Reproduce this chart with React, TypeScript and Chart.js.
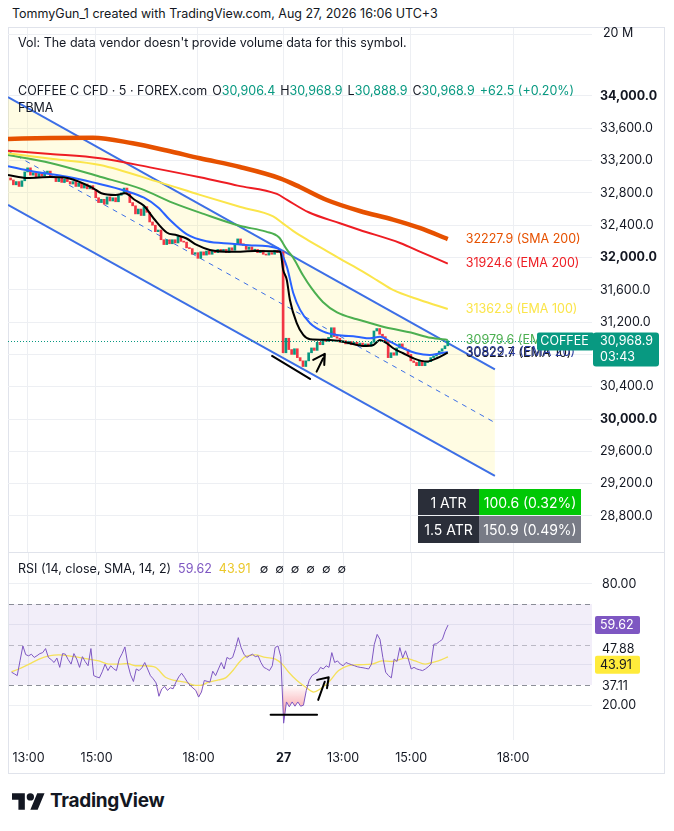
import React, { useEffect, useRef } from "react";
import { Chart, registerables } from "chart.js";

Chart.register(...registerables);

const FONT = "Inter, 'Noto Sans', 'DejaVu Sans', sans-serif";
const TEXT = "#131722";
const GRID = "#EDEFF3";
const UP = "#089981";
const DOWN = "#F23645";

// ---------- axes ----------
const xMin = -0.9;
const xMax = 204.8;
const timeTickIdx = [6, 30, 66, 96, 117, 141, 177];
const timeTickLabels = ["13:00", "15:00", "18:00", "27", "13:00", "15:00", "18:00"];
const priceTicks = [28800, 29200, 29600, 30000, 30400, 30800, 31200, 31600, 32000, 32400, 32800, 33200, 33600, 34000];
const priceAxisMin = 28353;
const priceAxisMax = 34842;
const rsiAxisMin = 2.78;
const rsiAxisMax = 95.25;
const rsiGridTicks = [20, 40, 60, 80];

// ---------- candles (5 min closes) ----------
const firstOpen = 32985;
const closes = [
  32960, 32900, 32940, 32880, 32950, 33060, 33110, 33020, 33050, 33000,
  33040, 33010, 33050, 33070, 33000, 32990, 32940, 32980, 32930, 32970,
  32940, 32910, 32940, 32880, 32920, 32860, 32910, 32850, 32890, 32840,
  32740, 32680, 32720, 32660, 32750, 32700, 32740, 32690, 32770, 32800,
  32860, 32800, 32680, 32640, 32540, 32600, 32520, 32630, 32560, 32440,
  32400, 32320, 32340, 32220, 32160, 32220, 32170, 32220, 32180, 32260,
  32200, 32190, 32120, 32110, 32040, 32060, 31990, 32070, 32030, 32080,
  32040, 32080, 32060, 32100, 32070, 32100, 32060, 32120, 32090, 32160,
  32230, 32170, 32150, 32100, 32130, 32090, 32100, 32060, 32090, 32040,
  32030, 32060, 32040, 32090, 32060, 32070, 30820, 31000, 30860, 30800,
  30870, 30760, 30720, 30650, 30720, 30820, 30880, 30850, 30950, 30920,
  30990, 30960, 31010, 31130, 31020, 31000, 30950, 30970, 30930, 30960,
  30920, 30950, 30910, 30940, 30900, 30930, 30900, 30950, 31090, 31120,
  31050, 31020, 30960, 30760, 30820, 30790, 30880, 30930, 30880, 30860,
  30800, 30720, 30700, 30660, 30720, 30660, 30700, 30710, 30760, 30780,
  30800, 30840, 30870, 30906.4, 30968.9,
];

// ---------- moving averages (bar index / value) ----------
const sma200Idx = [-0.9, 14, 29, 43, 55, 66.7, 80.8, 94.9, 101.9, 111.4, 123, 134.7, 144.1, 154];
const sma200Val = [33468, 33480, 33484, 33414, 33325, 33229, 33121, 32981, 32873, 32712, 32576, 32470, 32366, 32227.9];

const ema200Idx = [-0.9, 14, 31.5, 50, 66.7, 80, 93.8, 97.4, 105, 116, 123, 137.2, 145, 154];
const ema200Val = [33323, 33282, 33229, 33110, 32993, 32890, 32787, 32713, 32560, 32424, 32341, 32180, 32060, 31924.6];

const ema100Idx = [-0.9, 15, 31.5, 52.6, 66.7, 81, 92.5, 96, 99.5, 105, 111.4, 117, 123, 129, 134.7, 144.2, 154];
const ema100Val = [33290, 33220, 33146, 32930, 32775, 32625, 32510, 32420, 32330, 32210, 32080, 31965, 31846, 31720, 31598, 31474, 31362.9];

const ema50Idx = [-0.9, 14, 31.5, 46, 57, 68, 81, 90, 94.5, 97.4, 99.5, 103, 106, 110, 115, 122, 129, 134, 141, 148, 154];
const ema50Val = [33270, 33171, 33001, 32850, 32680, 32540, 32390, 32320, 32250, 32094, 32000, 31780, 31620, 31450, 31320, 31235, 31165, 31120, 31070, 31005, 30979.6];

const ema20Idx = [-0.9, 8, 20, 29, 41, 47, 52, 56, 62, 69, 78, 85, 94, 97.3, 99.6, 102, 105.5, 110.2, 114.9, 121.9, 126.6, 130.1, 133.7, 138.3, 143, 147.7, 151.3, 154];
const ema20Val = [33130, 33065, 33000, 32930, 32820, 32740, 32620, 32470, 32290, 32200, 32170, 32150, 32115, 31887, 31557, 31351, 31186, 31082, 31041, 31020, 30999, 31020, 30958, 30876, 30814, 30793, 30814, 30829.4];

const ema10Idx = [-0.9, 6, 14, 20, 29, 32, 37, 40.3, 43.8, 47, 50.5, 55, 58.6, 62, 65.6, 70.2, 78.3, 86, 95, 96, 97.3, 98.4, 100.8, 103.1, 105.5, 112.5, 117.2, 124.3, 127.8, 130.1, 132.5, 134.8, 138.3, 141.9, 146.6, 150.1, 154];
const ema10Val = [33022, 32985, 32997, 32985, 32860, 32795, 32774, 32795, 32712, 32640, 32480, 32310, 32275, 32235, 32155, 32093, 32070, 32080, 32075, 31850, 31722, 31474, 31186, 31041, 30987, 30979, 30958, 30905, 30917, 30979, 30938, 30876, 30814, 30752, 30711, 30752, 30822.7];

// ---------- regression channel ----------
const channelIdx = [-0.9, 170.6];
const channelUpper = [33985, 30615];
const channelMid = [33318, 29955];
const channelLower = [32651, 29296];

// ---------- hand drawn marks ----------
const priceMarkA = [[92.1, 30781], [105.5, 30497]];
const priceMarkB = [[107.8, 30587], [110.1, 30753]];
const priceMarkC = [[106.6, 30732], [110.7, 30806], [110.5, 30670]];
const rsiMarkA = [[91.4, 15.3], [107.8, 15.3]];
const rsiMarkB = [[107.8, 32.5], [111.9, 33.8], [111.3, 28.4]];
const rsiMarkC = [[108.2, 22.6], [110.5, 31.6]];

// ---------- RSI ----------
const rsi = [
  36.3, 35.5, 34.6, 42, 49.3, 45, 44.4, 45.2, 43.6, 44.5,
  45.5, 46, 48, 43.6, 42.5, 41.1, 43.3, 38.7, 45.5, 45.2,
  42.5, 40.3, 45.5, 42.8, 38.7, 44, 41.5, 39.5, 48, 34.6,
  34, 33.5, 36.5, 40.3, 37.1, 39.5, 38, 37.1, 42.8, 45.5,
  48.8, 40.3, 35, 31.7, 37.9, 37.1, 38.5, 41.1, 37.9, 34.6,
  33, 31, 24.4, 28, 29.3, 27.3, 28.6, 28.1, 31.4, 34,
  35.8, 33.8, 31.5, 29.8, 28.5, 27.3, 24, 26.5, 32.2, 31.8,
  31.4, 36.8, 34.6, 37.9, 41.1, 37.9, 43.6, 42.8, 43.6, 48,
  53.4, 48.5, 45.2, 43.6, 44.5, 45.2, 44, 44.4, 41.1, 38.7,
  38, 37.1, 39.5, 48.5, 49.3, 44, 11.1, 21.6, 19.2, 21.6,
  19.5, 21.6, 19.5, 20, 27.3, 32.2, 34.6, 35.5, 36.3, 38.7,
  37.9, 39.5, 38.7, 46, 41.1, 41.9, 40.3, 39.5, 41.1, 40.5,
  40, 39.5, 39, 38.7, 38.5, 38.2, 37.9, 40.3, 50.1, 55,
  52.5, 43.6, 36.3, 34.6, 33.5, 42.8, 41.6, 48.5, 43.3, 46.9,
  42.8, 37.9, 38.7, 37.9, 37.5, 37.1, 37.9, 39, 40.3, 50.1,
  50.4, 51.5, 52.5, 56.6, 59.62,
];
const rsiMaIdx = [0, 2.6, 6.2, 9.7, 13.2, 16.7, 20.2, 23.8, 27.3, 30.8, 34.3, 37.9, 40.8, 43.7, 47.2, 50.8, 54.3, 57.8, 61.3, 64.8, 66.6, 69.5, 73.1, 75.5, 78.3, 80.2, 82.5, 86, 89.6, 93.1, 95.5, 97.8, 100.7, 103.7, 106.6, 109, 111.9, 115.4, 118.9, 122.4, 127.1, 130.7, 134.2, 138.9, 142.4, 145.9, 148.3, 150.6, 154];
const rsiMaVal = [36.6, 37.9, 40.3, 42.8, 44.4, 44.9, 44.4, 43.6, 42.8, 41.9, 40.3, 40.3, 40.6, 39.5, 39.5, 38.7, 33.8, 32.2, 31.4, 29.8, 29.8, 31.4, 32.5, 33.5, 37.5, 41, 44, 44.9, 43.6, 42.8, 40.3, 36.3, 32.2, 29, 26.5, 28.1, 31.4, 37.1, 39.5, 40, 40.3, 41.9, 41.6, 43.3, 41.9, 40.3, 41.1, 41.9, 43.91];
const rsiBands = [70, 50, 30];
const rsiSideLabels = [47.88, 37.11];

// ---------- helpers ----------
const pts = (idx: number[], val: number[]) => idx.map((x, i) => ({ x, y: val[i] }));
const pairPts = (arr: number[][]) => arr.map(([x, y]) => ({ x, y }));
const fmtPrice = (v: number) =>
  Number(v).toLocaleString("en-US", { minimumFractionDigits: 1, maximumFractionDigits: 1 });

const lineDs = (data: any[], color: string, width: number, order: number, extra: any = {}) => ({
  type: "line",
  data,
  borderColor: color,
  borderWidth: width,
  pointRadius: 0,
  fill: false,
  cubicInterpolationMode: "monotone",
  order,
  ...extra,
});

const maLabels = [
  { name: "SMA 200", val: sma200Val, color: "#E65100", dy: 0 },
  { name: "EMA 200", val: ema200Val, color: "#EE1D23", dy: 0 },
  { name: "EMA 100", val: ema100Val, color: "#FBE54B", dy: 0 },
  { name: "EMA 50", val: ema50Val, color: "#4CAF50", dy: 0 },
  { name: "EMA 10", val: ema10Val, color: "#1a1a1a", dy: 1 },
  { name: "EMA 20", val: ema20Val, color: "#2A3C9E", dy: 0 },
];

const roundRect = (ctx: CanvasRenderingContext2D, x: number, y: number, w: number, h: number, r: number) => {
  ctx.beginPath();
  ctx.moveTo(x + r, y);
  ctx.lineTo(x + w - r, y);
  ctx.quadraticCurveTo(x + w, y, x + w, y + r);
  ctx.lineTo(x + w, y + h - r);
  ctx.quadraticCurveTo(x + w, y + h, x + w - r, y + h);
  ctx.lineTo(x + r, y + h);
  ctx.quadraticCurveTo(x, y + h, x, y + h - r);
  ctx.lineTo(x, y + r);
  ctx.quadraticCurveTo(x, y, x + r, y);
  ctx.closePath();
};

const priceOverlay = {
  id: "priceOverlay",
  afterDatasetsDraw(chart: any) {
    const { ctx, chartArea } = chart;
    const xs = chart.scales.x;
    const ys = chart.scales.y;
    const last = closes.length - 1;
    const lastClose = closes[last];
    const py = Math.round(ys.getPixelForValue(lastClose));
    ctx.save();
    ctx.strokeStyle = UP;
    ctx.lineWidth = 1;
    ctx.setLineDash([1, 2]);
    ctx.beginPath();
    ctx.moveTo(chartArea.left, py + 0.5);
    ctx.lineTo(chartArea.right, py + 0.5);
    ctx.stroke();
    ctx.setLineDash([]);
    const lx = xs.getPixelForValue(last) + 18;
    ctx.font = `12.5px ${FONT}`;
    ctx.textBaseline = "middle";
    ctx.textAlign = "left";
    maLabels.forEach((m) => {
      const v = m.val[m.val.length - 1];
      ctx.fillStyle = m.color;
      ctx.fillText(`${v.toFixed(1)} (${m.name})`, lx, ys.getPixelForValue(v) + m.dy);
    });
    const tagW = 55;
    ctx.fillStyle = UP;
    roundRect(ctx, chartArea.right - tagW, py - 8.5, tagW + 2, 18, 2);
    ctx.fill();
    ctx.fillStyle = "#ffffff";
    ctx.textAlign = "center";
    ctx.font = `12.5px ${FONT}`;
    ctx.fillText("COFFEE", chartArea.right - tagW / 2, py + 0.5);
    roundRect(ctx, chartArea.right + 1, py - 8.5, 66, 34, 3);
    ctx.fillStyle = UP;
    ctx.fill();
    ctx.fillStyle = "#ffffff";
    ctx.textAlign = "left";
    ctx.fillText(fmtPrice(lastClose), chartArea.right + 8, py + 0.5);
    ctx.fillText("03:43", chartArea.right + 8, py + 16.5);
    ctx.restore();
  },
};

const rsiOverlay = {
  id: "rsiOverlay",
  beforeDatasetsDraw(chart: any) {
    const { ctx, chartArea } = chart;
    const ys = chart.scales.y;
    ctx.save();
    const yTop = ys.getPixelForValue(rsiBands[0]);
    const yBot = ys.getPixelForValue(rsiBands[2]);
    ctx.fillStyle = "rgba(126,87,194,0.1)";
    ctx.fillRect(chartArea.left, yTop, chartArea.right - chartArea.left, yBot - yTop);
    rsiBands.forEach((b, i) => {
      const y = Math.round(ys.getPixelForValue(b)) + 0.5;
      ctx.strokeStyle = i === 1 ? "rgba(120,123,134,0.45)" : "rgba(120,123,134,0.85)";
      ctx.lineWidth = 1;
      ctx.setLineDash([5, 4]);
      ctx.beginPath();
      ctx.moveTo(chartArea.left, y);
      ctx.lineTo(chartArea.right, y);
      ctx.stroke();
    });
    ctx.restore();
  },
  afterDraw(chart: any) {
    const { ctx, chartArea } = chart;
    const ys = chart.scales.y;
    ctx.save();
    ctx.font = `12.5px ${FONT}`;
    ctx.textBaseline = "middle";
    ctx.textAlign = "left";
    ctx.fillStyle = TEXT;
    ctx.fillText(rsiSideLabels[0].toFixed(2), chartArea.right + 10, ys.getPixelForValue(rsiSideLabels[0]));
    ctx.fillText(rsiSideLabels[1].toFixed(2), chartArea.right + 10, ys.getPixelForValue(rsiSideLabels[1]) + 16);
    const lastRsi = rsi[rsi.length - 1];
    const lastMa = rsiMaVal[rsiMaVal.length - 1];
    const y1 = ys.getPixelForValue(lastRsi);
    roundRect(ctx, chartArea.right + 3, y1 - 9, 45, 18, 2);
    ctx.fillStyle = "#7E57C2";
    ctx.fill();
    ctx.fillStyle = "#ffffff";
    ctx.fillText(lastRsi.toFixed(2), chartArea.right + 8, y1 + 0.5);
    const y2 = ys.getPixelForValue(lastMa) + 8;
    roundRect(ctx, chartArea.right + 3, y2 - 9, 45, 18, 2);
    ctx.fillStyle = "#FFEB3B";
    ctx.fill();
    ctx.fillStyle = TEXT;
    ctx.fillText(lastMa.toFixed(2), chartArea.right + 8, y2 + 0.5);
    ctx.restore();
  },
};

const markStyle = { tension: 0, cubicInterpolationMode: "default", borderCapStyle: "round", borderJoinStyle: "round" };

export default function App() {
  const priceRef = useRef<HTMLCanvasElement>(null);
  const rsiRef = useRef<HTMLCanvasElement>(null);

  useEffect(() => {
    const opens = closes.map((c, i) => (i === 0 ? firstOpen : closes[i - 1]));
    const candleData = closes.map((c, i) => ({ x: i, y: [opens[i], c] }));
    const candleColors = closes.map((c, i) => (c >= opens[i] ? UP : DOWN));

    const priceChart = new Chart(priceRef.current as HTMLCanvasElement, {
      type: "line",
      data: {
        datasets: [
          lineDs(pts(channelIdx, channelUpper), "#3D6FE6", 2, 20, {
            fill: "+1",
            backgroundColor: "rgba(255,235,59,0.14)",
            cubicInterpolationMode: "default",
          }),
          lineDs(pts(channelIdx, channelLower), "#3D6FE6", 2, 19, { cubicInterpolationMode: "default" }),
          lineDs(pts(channelIdx, channelMid), "#3D6FE6", 1, 18, { borderDash: [5, 5], cubicInterpolationMode: "default" }),
          {
            type: "bar",
            data: candleData,
            backgroundColor: candleColors,
            borderWidth: 0,
            barThickness: 2,
            minBarLength: 1,
            order: 10,
          },
          lineDs(pts(sma200Idx, sma200Val), "#E65100", 4.5, 1),
          lineDs(pts(ema200Idx, ema200Val), "#EE1D23", 2, 2),
          lineDs(pts(ema100Idx, ema100Val), "#FBE54B", 2, 3),
          lineDs(pts(ema50Idx, ema50Val), "#4CAF50", 2, 4),
          lineDs(pts(ema20Idx, ema20Val), "#2962FF", 2, 5),
          lineDs(pts(ema10Idx, ema10Val), "#000000", 2, 4.5),
          lineDs(pairPts(priceMarkA), "#000000", 2, 0, markStyle),
          lineDs(pairPts(priceMarkB), "#000000", 2, 0, markStyle),
          lineDs(pairPts(priceMarkC), "#000000", 2, 0, markStyle),
        ] as any,
      },
      options: {
        responsive: false,
        devicePixelRatio: 1,
        animation: false,
        events: [],
        layout: { padding: 0 },
        plugins: {
          legend: { display: false },
          tooltip: { enabled: false },
          filler: { drawTime: "beforeDatasetsDraw" },
        } as any,
        scales: {
          x: {
            type: "linear",
            min: xMin,
            max: xMax,
            offset: false,
            afterBuildTicks: (s: any) => {
              s.ticks = timeTickIdx.map((v) => ({ value: v }));
            },
            ticks: { display: false },
            grid: { color: GRID, drawTicks: false, offset: false },
            border: { display: false },
            afterFit: (s: any) => {
              s.height = 0;
              s.paddingLeft = 0;
              s.paddingRight = 0;
            },
          },
          y: {
            type: "linear",
            position: "right",
            min: priceAxisMin,
            max: priceAxisMax,
            afterBuildTicks: (s: any) => {
              s.ticks = priceTicks.map((v) => ({ value: v }));
            },
            ticks: {
              padding: 8,
              color: TEXT,
              font: (c: any) => ({
                family: FONT,
                size: 12.5,
                weight: c.tick && c.tick.value % 2000 === 0 ? "bold" : "normal",
              }),
              callback: (v: any) => (v === 30800 ? "" : fmtPrice(v)),
            },
            grid: { color: GRID, drawTicks: false },
            border: { display: false },
            afterFit: (s: any) => {
              s.width = 72;
              s.paddingTop = 0;
              s.paddingBottom = 0;
            },
          },
        } as any,
      },
      plugins: [priceOverlay],
    } as any);

    const rsiChart = new Chart(rsiRef.current as HTMLCanvasElement, {
      type: "line",
      data: {
        datasets: [
          lineDs(rsi.map((v, i) => ({ x: i, y: v })), "#7E57C2", 1, 2, { cubicInterpolationMode: "default", tension: 0 }),
          lineDs(pts(rsiMaIdx, rsiMaVal), "#F5E15A", 1.3, 3),
          lineDs(pairPts(rsiMarkA), "#000000", 2, 0, markStyle),
          lineDs(pairPts(rsiMarkB), "#000000", 2, 0, markStyle),
          lineDs(pairPts(rsiMarkC), "#000000", 2, 0, markStyle),
        ] as any,
      },
      options: {
        responsive: false,
        devicePixelRatio: 1,
        animation: false,
        events: [],
        layout: { padding: 0 },
        plugins: {
          legend: { display: false },
          tooltip: { enabled: false },
          filler: { drawTime: "beforeDatasetsDraw" },
        } as any,
        scales: {
          x: {
            type: "linear",
            min: xMin,
            max: xMax,
            offset: false,
            afterBuildTicks: (s: any) => {
              s.ticks = timeTickIdx.map((v) => ({ value: v }));
            },
            ticks: {
              autoSkip: false,
              maxRotation: 0,
              padding: 11,
              color: TEXT,
              font: (c: any) => ({
                family: FONT,
                size: 12.5,
                weight: timeTickLabels[c.index] === "27" ? "bold" : "normal",
              }),
              callback: (_v: any, i: number) => timeTickLabels[i],
            },
            grid: { color: GRID, drawTicks: false },
            border: { display: false },
            afterFit: (s: any) => {
              s.height = 33;
              s.paddingLeft = 0;
              s.paddingRight = 0;
            },
          },
          y: {
            type: "linear",
            position: "right",
            min: rsiAxisMin,
            max: rsiAxisMax,
            afterBuildTicks: (s: any) => {
              s.ticks = rsiGridTicks.map((v) => ({ value: v }));
            },
            ticks: {
              padding: 10,
              color: TEXT,
              font: { family: FONT, size: 12.5 },
              callback: (v: any) => (v === 80 || v === 20 ? Number(v).toFixed(2) : ""),
            },
            grid: { color: GRID, drawTicks: false },
            border: { display: false },
            afterFit: (s: any) => {
              s.width = 72;
              s.paddingTop = 0;
              s.paddingBottom = 0;
            },
          },
        } as any,
      },
      plugins: [rsiOverlay],
    } as any);

    const ys = rsiChart.scales.y as any;
    const g = rsiChart.ctx.createLinearGradient(0, ys.getPixelForValue(30), 0, ys.getPixelForValue(0));
    g.addColorStop(0, "rgba(242,54,69,0)");
    g.addColorStop(1, "rgba(242,54,69,1)");
    (rsiChart.data.datasets[0] as any).fill = { target: { value: 30 }, above: "rgba(0,0,0,0)", below: g };
    rsiChart.update("none");

    return () => {
      priceChart.destroy();
      rsiChart.destroy();
    };
  }, []);

  const abs = (left: number, top: number, extra: any = {}) => ({ position: "absolute", left, top, ...extra } as React.CSSProperties);
  const txt: React.CSSProperties = { whiteSpace: "nowrap", fontSize: 12.5, lineHeight: "16px" };
  const teal = { color: UP };

  return (
    <div style={{ position: "absolute", left: 0, top: 0, width: 674, height: 831, background: "#ffffff", fontFamily: FONT, color: TEXT, overflow: "hidden" }}>
      <div style={abs(12, 6, txt)}>TommyGun_1 created with TradingView.com, Aug 27, 2026 16:06 UTC+3</div>

      <div style={abs(8, 27, { width: 655, height: 745, border: "1px solid #E0E3EB" })} />

      <canvas ref={priceRef} width={656} height={524} style={abs(8, 28, { width: 656, height: 524 })} />
      <canvas ref={rsiRef} width={656} height={221} style={abs(8, 552, { width: 656, height: 221 })} />

      <div style={abs(8, 552, { width: 656, height: 1, background: "#E0E3EB" })} />
      <div style={abs(8, 34, { width: 584, height: 1, background: GRID })} />

      <div style={abs(603, 25, txt)}>20 M</div>
      <div style={abs(18, 35, txt)}>Vol: The data vendor doesn't provide volume data for this symbol.</div>

      <div style={abs(18, 83, txt)}>
        COFFEE C CFD · 5 · FOREX.com
        <span style={{ marginLeft: 5 }}>O</span><span style={teal}>30,906.4</span>
        <span style={{ marginLeft: 5 }}>H</span><span style={teal}>30,968.9</span>
        <span style={{ marginLeft: 5 }}>L</span><span style={teal}>30,888.9</span>
        <span style={{ marginLeft: 5 }}>C</span><span style={teal}>30,968.9</span>
        <span style={{ marginLeft: 5, color: UP }}>+62.5 (+0.20%)</span>
      </div>
      <div style={abs(18, 100, txt)}>FBMA</div>

      <div style={abs(18, 561, txt)}>
        RSI (14, close, SMA, 14, 2)
        <span style={{ marginLeft: 7, color: "#7E57C2" }}>59.62</span>
        <span style={{ marginLeft: 7, color: "#EBC82A" }}>43.91</span>
        <span style={{ marginLeft: 9, letterSpacing: 7 }}>∅∅∅∅∅∅</span>
      </div>

      <div style={abs(418, 489, { width: 163, height: 54, fontSize: 14, color: "#ffffff" })}>
        <div style={abs(0, 0, { width: 61, height: 26, background: "#2A2E39", display: "flex", alignItems: "center", justifyContent: "center" })}>1 ATR</div>
        <div style={abs(61, 0, { width: 102, height: 26, background: "#00C805", display: "flex", alignItems: "center", justifyContent: "center" })}>100.6 (0.32%)</div>
        <div style={abs(0, 27, { width: 61, height: 27, background: "#2A2E39", display: "flex", alignItems: "center", justifyContent: "center" })}>1.5 ATR</div>
        <div style={abs(61, 27, { width: 102, height: 27, background: "#787B86", display: "flex", alignItems: "center", justifyContent: "center" })}>150.9 (0.49%)</div>
      </div>

      <div style={abs(12, 791, { display: "flex", alignItems: "center" })}>
        <svg width="33" height="17" viewBox="0 4 36 18">
          <path d="M14 22H7V11H0V4h14v18zM28 22h-8l7.5-18h8L28 22z" fill="#131722" />
          <circle cx="20" cy="8" r="4" fill="#131722" />
        </svg>
        <span style={{ marginLeft: 5, fontSize: 19, fontWeight: 700, letterSpacing: -0.3, lineHeight: "20px" }}>TradingView</span>
      </div>
    </div>
  );
}
